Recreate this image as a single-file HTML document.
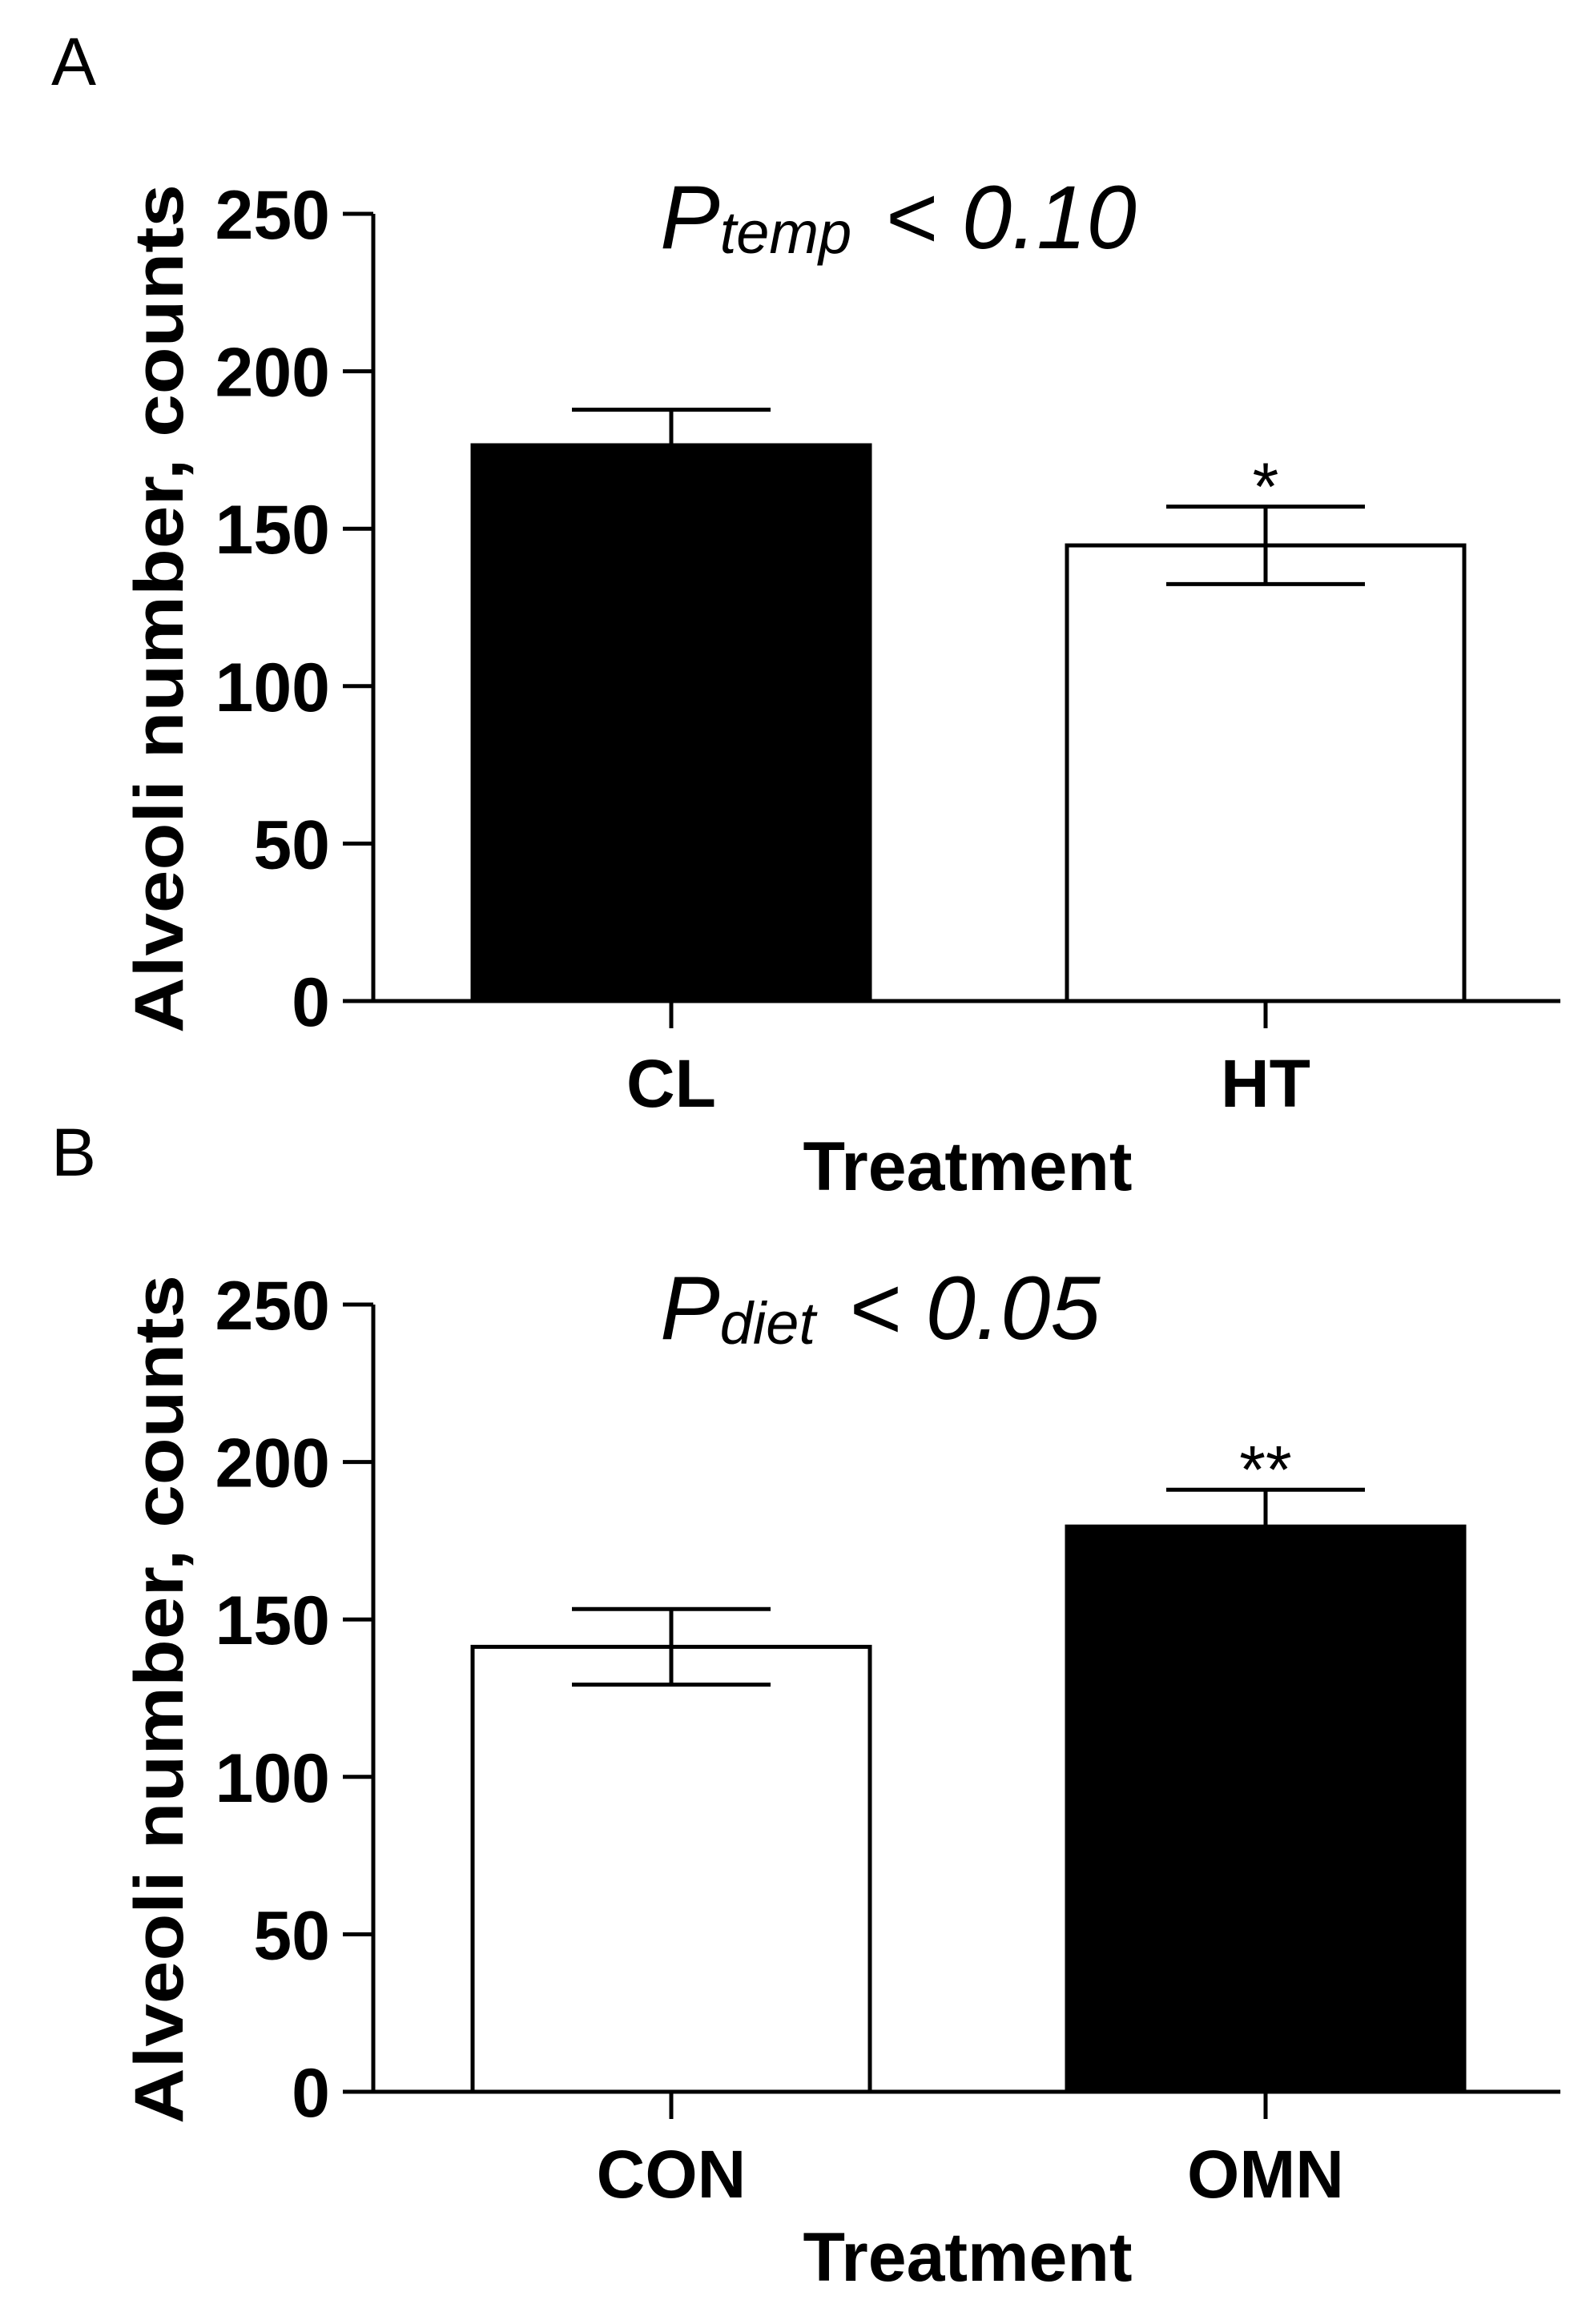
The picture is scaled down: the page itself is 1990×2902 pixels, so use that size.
<!DOCTYPE html>
<html><head><meta charset="utf-8"><style>
html,body{margin:0;padding:0;background:#fff}
svg{display:block}
text{font-family:"Liberation Sans",Arial,sans-serif;fill:#000}
</style></head><body>
<svg id="chart" width="1990" height="2902" viewBox="0 0 1990 2902" xmlns="http://www.w3.org/2000/svg"></svg>
<script>
const ticks = [0, 50, 100, 150, 200, 250];
const catsA = ["CL", "HT"];
const meansA = [176.5, 144.7];
const semA = [11.3, 12.3];
const fillsA = ["#000", "#fff"];
const starsA = ["", "*"];
const catsB = ["CON", "OMN"];
const meansB = [141.3, 179.5];
const semB = [12.0, 11.7];
const fillsB = ["#fff", "#000"];
const starsB = ["", "**"];

const NS = "http://www.w3.org/2000/svg";
const svg = document.getElementById("chart");
function mk(tag, attrs, parent, txt) {
  const e = document.createElementNS(NS, tag);
  for (const k in attrs) e.setAttribute(k, attrs[k]);
  if (txt !== undefined) e.textContent = txt;
  (parent || svg).appendChild(e);
  return e;
}

function panel(off, letter, pMain, pSub, pVal, cats, means, sem, fills, stars, name) {
  const g = mk("g", {});
  
  
  const x0 = 466, y0 = 1250 + off, ppu = 983 / 250, xEnd = 1948;
  const y = v => y0 - v * ppu;
  const centers = [838, 1580];
  const halfW = 248;

  const L = mk("text", {x: 64, y: 106 + off, "font-size": 84}, g, letter);
  
  

  const t = mk("text", {x: 824, y: 310 + off, "font-size": 112, "font-style": "italic"}, g);
  
  
  mk("tspan", {}, t, pMain);
  mk("tspan", {"font-size": 74, dy: 6}, t, pSub);
  mk("tspan", {dy: -6, dx: 10}, t, " < " + pVal);

  cats.forEach((c, i) => {
    const b = mk("rect", {x: centers[i] - halfW, y: y(means[i]), width: 2 * halfW, height: y0 - y(means[i]), fill: fills[i], stroke: "#000", "stroke-width": 5}, g);
    
    
    const e = mk("path", {d: `M${centers[i]} ${y(means[i] + sem[i])} V${fills[i] === "#000" ? y(means[i]) : y(means[i] - sem[i])} M${centers[i] - 124} ${y(means[i] + sem[i])} H${centers[i] + 124}` + (fills[i] === "#000" ? "" : ` M${centers[i] - 124} ${y(means[i] - sem[i])} H${centers[i] + 124}`), stroke: "#000", "stroke-width": 5, fill: "none"}, g);
    
    
    if (stars[i]) {
      const s = mk("text", {x: centers[i], y: y(means[i] + sem[i]) + 4, "font-size": 84, "text-anchor": "middle"}, g, stars[i]);
      
      
    }
    const tl = mk("text", {x: centers[i], y: 1382 + off, "font-size": 84, "font-weight": "bold", "text-anchor": "middle"}, g, c);
    
    
    const tk = mk("line", {x1: centers[i], x2: centers[i], y1: y0, y2: y0 + 34, stroke: "#000", "stroke-width": 5}, g);
    
    
  });

  const ax = mk("path", {d: `M${x0} ${y(250)} V${y0} H${xEnd}`, stroke: "#000", "stroke-width": 5, fill: "none"}, g);
  
  
  ticks.forEach(v => {
    const tk = mk("line", {x1: 428, x2: x0, y1: y(v), y2: y(v), stroke: "#000", "stroke-width": 5}, g);
    
    
    const tl = mk("text", {x: 412, y: y(v) + 31, "font-size": 86, "font-weight": "bold", "text-anchor": "end"}, g, String(v));
    
    
  });
  const yt = mk("text", {x: 0, y: 0, "font-size": 86, "font-weight": "bold", "text-anchor": "middle", textLength: 1060, lengthAdjust: "spacingAndGlyphs", transform: `translate(228 ${760 + off}) rotate(-90)`}, g, "Alveoli number, counts");
  
  
  const xt = mk("text", {x: 1208, y: 1486 + off, "font-size": 86, "font-weight": "bold", "text-anchor": "middle"}, g, "Treatment");
  
  
}

panel(0, "A", "P", "temp", "0.10", catsA, meansA, semA, fillsA, starsA, "panel-a");
panel(1362, "B", "P", "diet", "0.05", catsB, meansB, semB, fillsB, starsB, "panel-b");
</script>
</body></html>
